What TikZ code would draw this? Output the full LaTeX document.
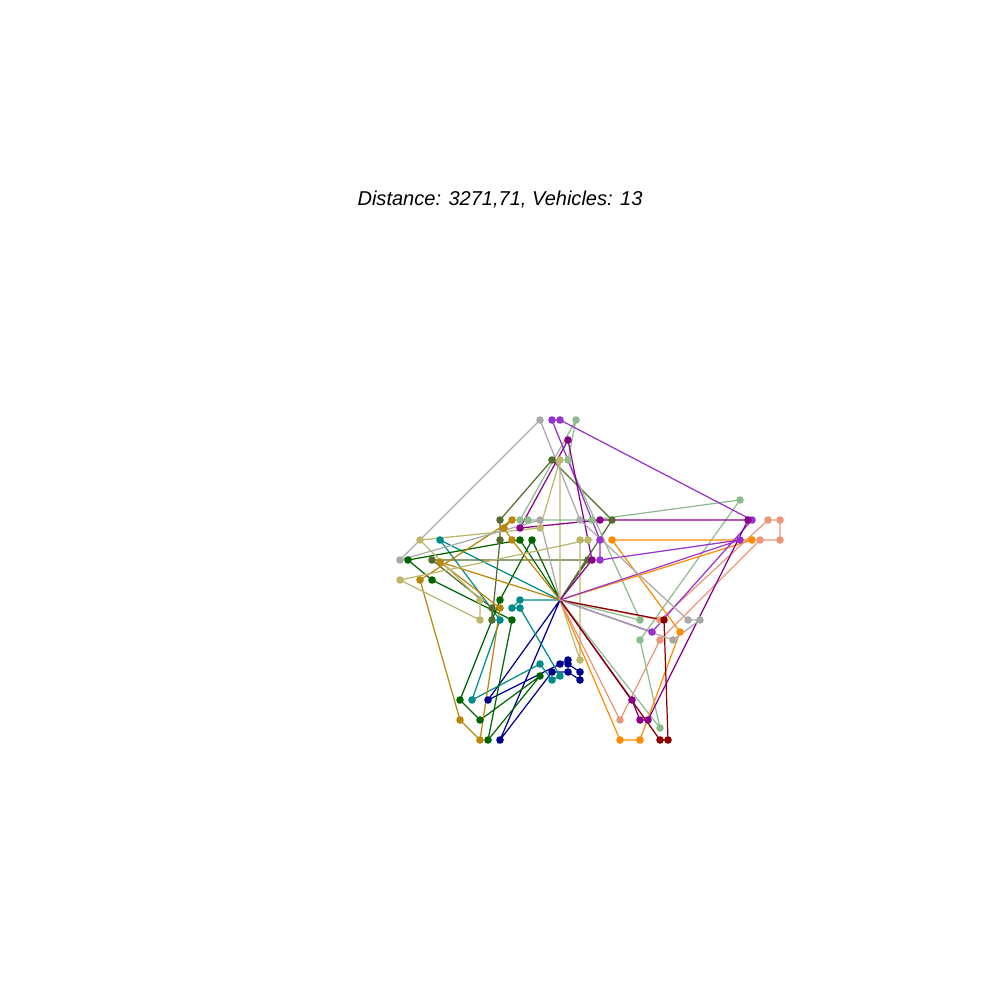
\documentclass[tikz,border=0pt]{standalone}
\usepackage{fontspec}
\setmainfont{Liberation Sans}
\usetikzlibrary{positioning}
\definecolor{navyc}{RGB}{0,0,139}
\definecolor{tealc}{RGB}{0,139,139}
\definecolor{dgreen}{RGB}{0,100,0}
\definecolor{dolive}{RGB}{85,107,47}
\definecolor{dgold}{RGB}{184,134,11}
\definecolor{dkhaki}{RGB}{189,183,107}
\definecolor{dsea}{RGB}{143,188,143}
\definecolor{dorange}{RGB}{255,140,0}
\definecolor{dsalmon}{RGB}{233,150,122}
\definecolor{dorchid}{RGB}{153,50,204}
\definecolor{dmagenta}{RGB}{139,0,139}
\definecolor{dred}{RGB}{139,0,0}
\definecolor{dgray}{RGB}{169,169,169}
\tikzset{
    plot/.style={x=0.01cm, y=-0.01cm},
    route/.style={draw=#1, line width=0.35pt},
    stop/.style={fill=#1},
    heading/.style={font=\fontsize{5.7}{7}\selectfont\itshape},
    }

\begin{document}
\begin{tikzpicture}[plot]
    \useasboundingbox (0,0) rectangle (1000,1000);
    \node[heading] (title) at (500,200) {Distance: 3271,71, Vehicles: 13};
    \coordinate (dep) at (560,600);
    % customers, one list per vehicle
    \foreach \p/\x/\y in {nv1/488/700, nv2/560/664, nv3/568/660, nv4/568/664, nv5/580/672,
        nv6/580/680, nv7/568/672, nv8/552/672, nv9/500/740,
        tl1/520/600, tl2/512/608, tl3/520/608, tl4/560/676, tl5/552/680, tl6/540/664,
        tl7/472/700, tl8/500/620, tl9/440/540,
        dg1/520/540, dg2/408/560, dg3/432/580, dg4/512/620, dg5/488/740, dg6/540/676,
        dg7/480/720, dg8/460/700, dg9/500/600, dg10/532/540,
        ol1/588/560, ol2/432/560, ol3/492/608, ol4/492/620, ol5/500/540, ol6/500/520,
        ol7/552/460, ol8/612/520,
        gr1/512/540, gr2/504/528, gr3/512/520, gr4/420/580, gr5/460/720, gr6/480/740,
        gr7/500/608, gr8/440/562,
        kh1/560/460, kh2/540/528, kh3/420/540, kh4/480/600, kh5/480/620, kh6/400/580,
        kh7/588/540, kh8/580/540, kh9/580/660,
        sg1/640/620, sg2/568/460, sg3/576/420, sg4/520/520, sg5/528/520, sg6/592/520,
        sg7/740/500, sg8/640/640, sg9/660/728,
        or1/752/540, or2/612/540, or3/680/632, or4/640/740, or5/620/740,
        sa1/660/620, sa2/768/520, sa3/780/520, sa4/780/540, sa5/760/540, sa6/660/640, sa7/620/720,
        oc1/740/540, oc2/600/560, oc3/600/540, oc4/552/420, oc5/560/420, oc6/752/520, oc7/652/632,
        mg1/592/560, mg2/568/440, mg3/520/528, mg4/600/520, mg5/748/520, mg6/648/720,
        mg7/640/720, mg8/632/700,
        dr1/664/620, dr2/668/740, dr3/660/740,
        gy1/540/520, gy2/400/560, gy3/540/420, gy4/580/520, gy5/688/620, gy6/700/620, gy7/673/640}
        \coordinate (\p) at (\x,\y);

    % routes
    \draw[route=navyc] (dep) -- (nv1) -- (nv2) -- (nv3) -- (nv4) -- (nv5) -- (nv6) -- (nv7) -- (nv8) -- (nv9) -- (dep);
    \draw[route=tealc] (dep) -- (tl1) -- (tl2) -- (tl3) -- (tl4) -- (tl5) -- (tl6) -- (tl7) -- (tl8) -- (tl9) -- (dep);
    \draw[route=dgreen] (dep) -- (dg1) -- (dg2) -- (dg3) -- (dg4) -- (dg5) -- (dg6) -- (dg7) -- (dg8) -- (dg9) -- (dg10) -- (dep);
    \draw[route=dolive] (dep) -- (ol1) -- (ol2) -- (ol3) -- (ol4) -- (ol5) -- (ol6) -- (ol7) -- (ol8) -- (dep);
    \draw[route=dgold] (dep) -- (gr1) -- (gr2) -- (gr3) -- (gr4) -- (gr5) -- (gr6) -- (gr7) -- (gr8) -- (dep);
    \draw[route=dkhaki] (dep) -- (kh1) -- (kh2) -- (kh3) -- (kh4) -- (kh5) -- (kh6) -- (kh7) -- (kh8) -- (kh9) -- (dep);
    \draw[route=dsea] (dep) -- (sg1) -- (sg2) -- (sg3) -- (sg4) -- (sg5) -- (sg6) -- (sg7) -- (sg8) -- (sg9) -- (dep);
    \draw[route=dorange] (dep) -- (or1) -- (or2) -- (or3) -- (or4) -- (or5) -- (dep);
    \draw[route=dsalmon] (dep) -- (sa1) -- (sa2) -- (sa3) -- (sa4) -- (sa5) -- (sa6) -- (sa7) -- (dep);
    \draw[route=dorchid] (dep) -- (oc1) -- (oc2) -- (oc3) -- (oc4) -- (oc5) -- (oc6) -- (oc7) -- (dep);
    \draw[route=dmagenta] (dep) -- (mg1) -- (mg2) -- (mg3) -- (mg4) -- (mg5) -- (mg6) -- (mg7) -- (mg8) -- (dep);
    \draw[route=dred] (dep) -- (dr1) -- (dr2) -- (dr3) -- (dep);
    \draw[route=dgray] (dep) -- (gy1) -- (gy2) -- (gy3) -- (gy4) -- (gy5) -- (gy6) -- (gy7) -- (dep);

    % stops
    \foreach \c/\l in {navyc/{nv1,nv2,nv3,nv4,nv5,nv6,nv7,nv8,nv9},
        tealc/{tl1,tl2,tl3,tl4,tl5,tl6,tl7,tl8,tl9},
        dgreen/{dg1,dg2,dg3,dg4,dg5,dg6,dg7,dg8,dg9,dg10},
        dolive/{ol1,ol2,ol3,ol4,ol5,ol6,ol7,ol8},
        dgold/{gr1,gr2,gr3,gr4,gr5,gr6,gr7,gr8},
        dkhaki/{kh1,kh2,kh3,kh4,kh5,kh6,kh7,kh8,kh9},
        dsea/{sg1,sg2,sg3,sg4,sg5,sg6,sg7,sg8,sg9},
        dorange/{or1,or2,or3,or4,or5},
        dsalmon/{sa1,sa2,sa3,sa4,sa5,sa6,sa7},
        dorchid/{oc1,oc2,oc3,oc4,oc5,oc6,oc7},
        dmagenta/{mg1,mg2,mg3,mg4,mg5,mg6,mg7,mg8},
        dred/{dr1,dr2,dr3},
        dgray/{gy1,gy2,gy3,gy4,gy5,gy6,gy7}}
        \foreach \p in \l
            \fill[stop=\c] (\p) circle[radius=0.38mm];
\end{tikzpicture}
\end{document}
